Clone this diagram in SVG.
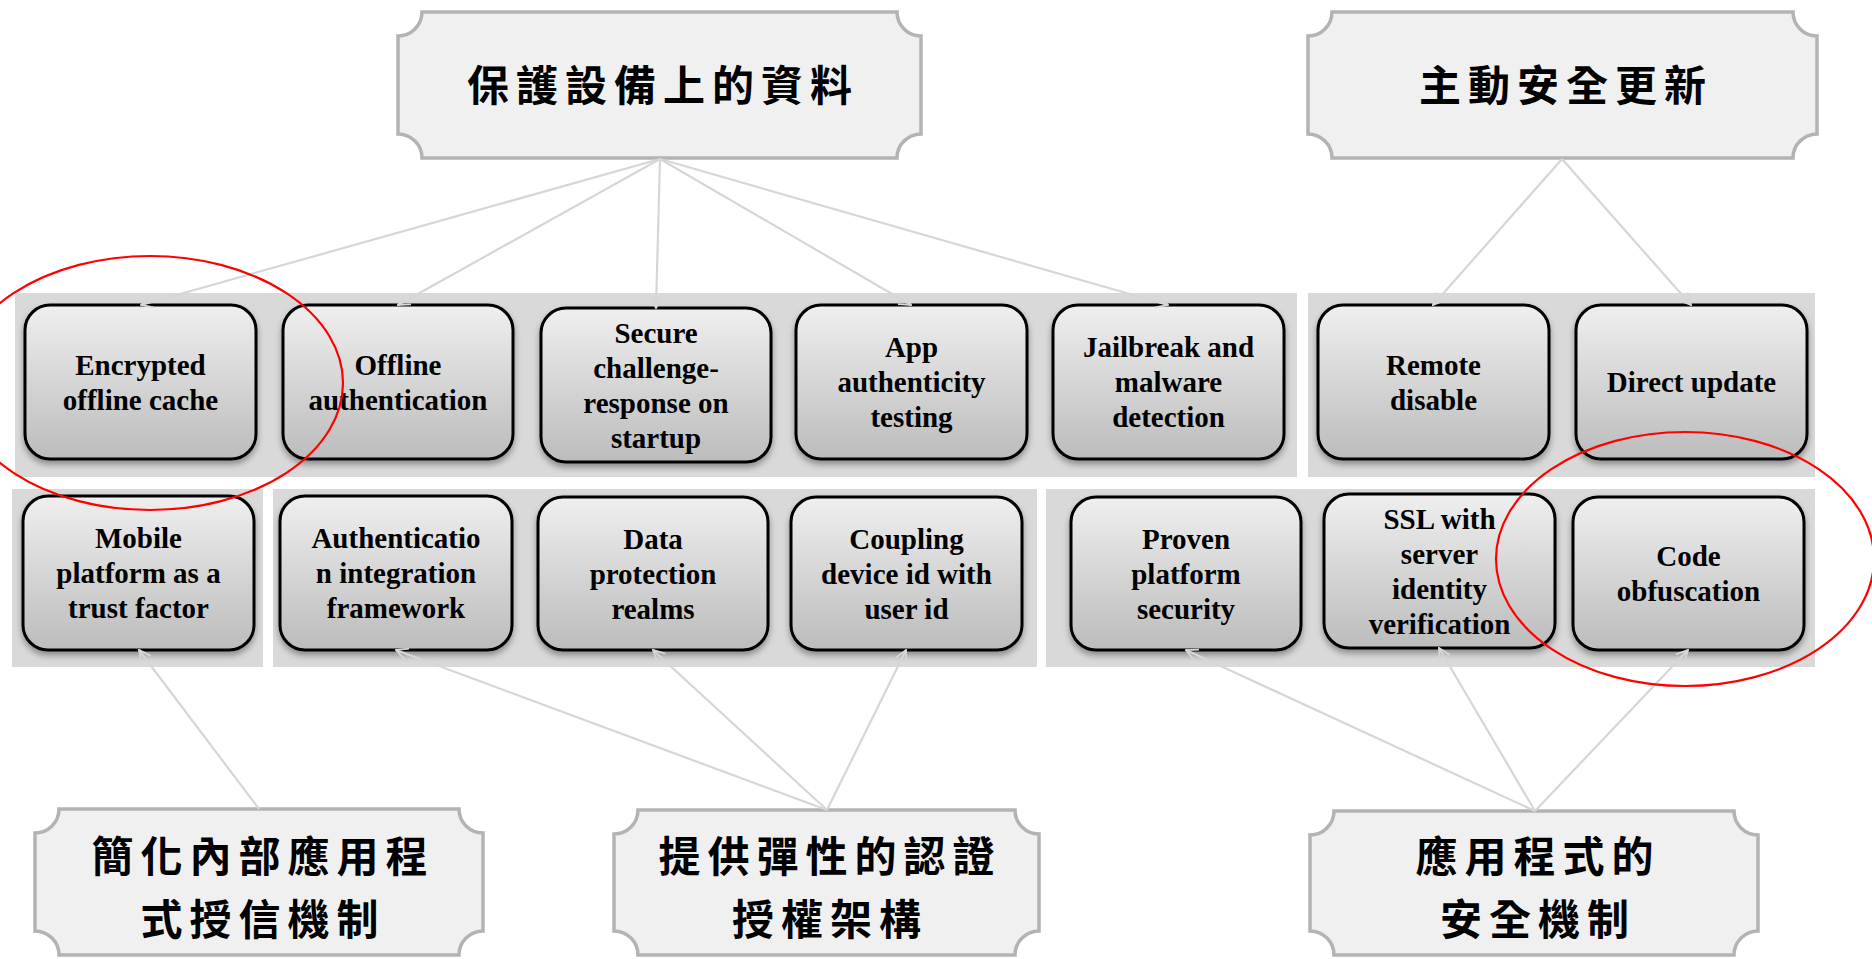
<svg xmlns="http://www.w3.org/2000/svg" width="1872" height="959" viewBox="0 0 1872 959">
<defs>
<linearGradient id="nodeGrad" x1="0" y1="0" x2="0" y2="1">
<stop offset="0" stop-color="#efefef"/>
<stop offset="1" stop-color="#bcbcbc"/>
</linearGradient>
<filter id="shadow" x="-10%" y="-10%" width="120%" height="130%">
<feDropShadow dx="0" dy="4" stdDeviation="3" flood-color="#000" flood-opacity="0.35"/>
</filter>
<marker id="arrow" viewBox="0 0 12 12" refX="11" refY="6" markerWidth="14" markerHeight="14" markerUnits="userSpaceOnUse" orient="auto">
<path d="M1,1 L11,6 L1,11" fill="none" stroke="#d6d6d6" stroke-width="1.6"/>
</marker>
<style>
.band{fill:#d9d9d9}
.node rect{fill:url(#nodeGrad);stroke:#000;stroke-width:3;filter:url(#shadow)}
.node text{font-family:"Liberation Serif","Times New Roman",serif;font-weight:bold;font-size:29px;fill:#000;text-anchor:middle}
.head path{fill:#f0f0f0;stroke:#b3b3b3;stroke-width:3.5}
.head text{font-family:"Noto Sans CJK TC","Noto Sans CJK SC",sans-serif;font-weight:bold;font-size:42px;letter-spacing:7px;fill:#000;text-anchor:middle}
.conn line{stroke:#d6d6d6;stroke-width:2.2;marker-end:url(#arrow)}
.mark{fill:none;stroke:#ff0000;stroke-width:2.2}
</style>
</defs>
<rect width="1872" height="959" fill="#ffffff"/>

<g id="bands">
<rect class="band" x="15" y="293" width="1282" height="184"/>
<rect class="band" x="1308" y="293" width="507" height="184"/>
<rect class="band" x="12" y="489" width="251" height="178"/>
<rect class="band" x="273" y="489" width="764" height="178"/>
<rect class="band" x="1046" y="489" width="769" height="178"/>
</g>

<g id="head-protect" class="head">
<path d="M422,12 H897 A24,24 0 0 0 921,36 V134 A24,24 0 0 0 897,158 H422 A24,24 0 0 0 398,134 V36 A24,24 0 0 0 422,12 Z"/>
<text x="663" y="101">保護設備上的資料</text>
</g>
<g id="head-update" class="head">
<path d="M1332,12 H1793 A24,24 0 0 0 1817,36 V134 A24,24 0 0 0 1793,158 H1332 A24,24 0 0 0 1308,134 V36 A24,24 0 0 0 1332,12 Z"/>
<text x="1566" y="101">主動安全更新</text>
</g>
<g id="head-simplify" class="head">
<path d="M59,809 H459 A24,24 0 0 0 483,833 V931 A24,24 0 0 0 459,955 H59 A24,24 0 0 0 35,931 V833 A24,24 0 0 0 59,809 Z"/>
<text x="263" y="872">簡化內部應用程</text>
<text x="263" y="935">式授信機制</text>
</g>
<g id="head-flex" class="head">
<path d="M638,810 H1015 A24,24 0 0 0 1039,834 V931 A24,24 0 0 0 1015,955 H638 A24,24 0 0 0 614,931 V834 A24,24 0 0 0 638,810 Z"/>
<text x="830" y="872">提供彈性的認證</text>
<text x="830" y="935">授權架構</text>
</g>
<g id="head-appsec" class="head">
<path d="M1334,811 H1734 A24,24 0 0 0 1758,835 V931 A24,24 0 0 0 1734,955 H1334 A24,24 0 0 0 1310,931 V835 A24,24 0 0 0 1334,811 Z"/>
<text x="1538" y="872">應用程式的</text>
<text x="1538" y="935">安全機制</text>
</g>

<g id="n-encrypted" class="node"><rect x="25" y="305" width="231" height="154" rx="25"/><text><tspan x="140.5" y="374.5">Encrypted</tspan><tspan x="140.5" y="409.5">offline cache</tspan></text></g>
<g id="n-offline" class="node"><rect x="283" y="305" width="230" height="154" rx="25"/><text><tspan x="398" y="374.5">Offline</tspan><tspan x="398" y="409.5">authentication</tspan></text></g>
<g id="n-secure" class="node"><rect x="541" y="308" width="230" height="154" rx="25"/><text><tspan x="656" y="342.5">Secure</tspan><tspan x="656" y="377.5">challenge-</tspan><tspan x="656" y="412.5">response on</tspan><tspan x="656" y="447.5">startup</tspan></text></g>
<g id="n-app" class="node"><rect x="796" y="305" width="231" height="154" rx="25"/><text><tspan x="911.5" y="357">App</tspan><tspan x="911.5" y="392">authenticity</tspan><tspan x="911.5" y="427">testing</tspan></text></g>
<g id="n-jailbreak" class="node"><rect x="1053" y="305" width="231" height="154" rx="25"/><text><tspan x="1168.5" y="357">Jailbreak and</tspan><tspan x="1168.5" y="392">malware</tspan><tspan x="1168.5" y="427">detection</tspan></text></g>
<g id="n-remote" class="node"><rect x="1318" y="305" width="231" height="154" rx="25"/><text><tspan x="1433.5" y="374.5">Remote</tspan><tspan x="1433.5" y="409.5">disable</tspan></text></g>
<g id="n-direct" class="node"><rect x="1576" y="305" width="231" height="154" rx="25"/><text><tspan x="1691.5" y="392">Direct update</tspan></text></g>

<g id="n-mobile" class="node"><rect x="23" y="496" width="231" height="154" rx="25"/><text><tspan x="138.5" y="548">Mobile</tspan><tspan x="138.5" y="583">platform as a</tspan><tspan x="138.5" y="618">trust factor</tspan></text></g>
<g id="n-authfw" class="node"><rect x="280" y="496" width="232" height="154" rx="25"/><text><tspan x="396" y="548">Authenticatio</tspan><tspan x="396" y="583">n integration</tspan><tspan x="396" y="618">framework</tspan></text></g>
<g id="n-data" class="node"><rect x="538" y="497" width="230" height="153" rx="25"/><text><tspan x="653" y="548.5">Data</tspan><tspan x="653" y="583.5">protection</tspan><tspan x="653" y="618.5">realms</tspan></text></g>
<g id="n-coupling" class="node"><rect x="791" y="497" width="231" height="153" rx="25"/><text><tspan x="906.5" y="548.5">Coupling</tspan><tspan x="906.5" y="583.5">device id with</tspan><tspan x="906.5" y="618.5">user id</tspan></text></g>
<g id="n-proven" class="node"><rect x="1071" y="497" width="230" height="153" rx="25"/><text><tspan x="1186" y="548.5">Proven</tspan><tspan x="1186" y="583.5">platform</tspan><tspan x="1186" y="618.5">security</tspan></text></g>
<g id="n-ssl" class="node"><rect x="1324" y="494" width="231" height="154" rx="25"/><text><tspan x="1439.5" y="528.5">SSL with</tspan><tspan x="1439.5" y="563.5">server</tspan><tspan x="1439.5" y="598.5">identity</tspan><tspan x="1439.5" y="633.5">verification</tspan></text></g>
<g id="n-code" class="node"><rect x="1573" y="497" width="231" height="153" rx="25"/><text><tspan x="1688.5" y="566">Code</tspan><tspan x="1688.5" y="601">obfuscation</tspan></text></g>

<g id="connectors" class="conn">
<line x1="660" y1="159" x2="141" y2="305"/>
<line x1="660" y1="159" x2="398" y2="305"/>
<line x1="660" y1="159" x2="656" y2="308"/>
<line x1="660" y1="159" x2="911" y2="305"/>
<line x1="660" y1="159" x2="1168" y2="305"/>
<line x1="1562" y1="159" x2="1433" y2="305"/>
<line x1="1562" y1="159" x2="1691" y2="305"/>
<line x1="259" y1="809" x2="139" y2="650"/>
<line x1="827" y1="810" x2="396" y2="650"/>
<line x1="827" y1="810" x2="653" y2="650"/>
<line x1="827" y1="810" x2="906" y2="650"/>
<line x1="1535" y1="811" x2="1186" y2="650"/>
<line x1="1535" y1="811" x2="1439" y2="648"/>
<line x1="1535" y1="811" x2="1688" y2="650"/>
</g>

<g id="highlights">
<ellipse class="mark" cx="150" cy="383" rx="193" ry="127"/>
<ellipse class="mark" cx="1685" cy="559" rx="189" ry="127"/>
</g>
</svg>
